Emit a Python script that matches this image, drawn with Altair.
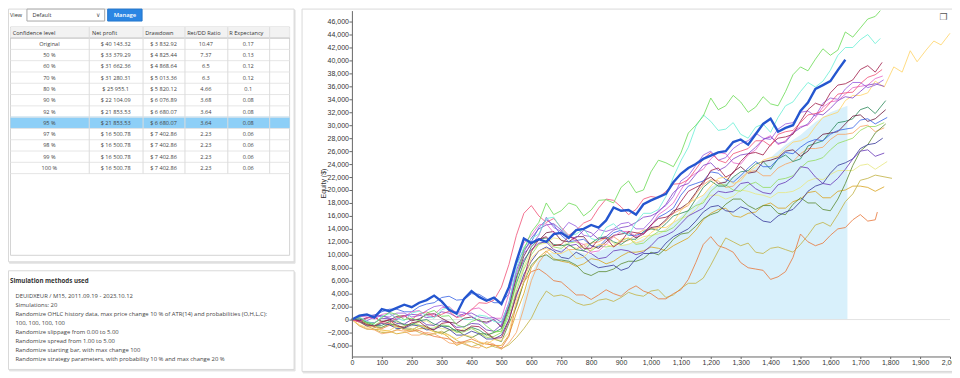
import altair as alt
import pandas as pd

# ---------------------------------------------------------------- data
CONF_LEVELS = ["Original", "50 %", "60 %", "70 %", "80 %", "90 %", "92 %", "95 %",
               "97 %", "98 %", "99 %", "100 %"]
NET_PROFIT = ["$ 40 143.32", "$ 33 379.29", "$ 31 662.36", "$ 31 280.31", "$ 25 955.1",
              "$ 22 104.09", "$ 21 853.53", "$ 21 853.53", "$ 16 500.78", "$ 16 500.78",
              "$ 16 500.78", "$ 16 500.78"]
DRAWDOWN = ["$ 3 832.92", "$ 4 825.44", "$ 4 868.64", "$ 5 013.36", "$ 5 820.12",
            "$ 6 076.89", "$ 6 680.07", "$ 6 680.07", "$ 7 402.86", "$ 7 402.86",
            "$ 7 402.86", "$ 7 402.86"]
RET_DD = ["10.47", "7.37", "6.5", "6.3", "4.66", "3.68", "3.64", "3.64",
          "2.23", "2.23", "2.23", "2.23"]
R_EXPECTANCY = ["0.17", "0.13", "0.12", "0.12", "0.1", "0.08", "0.08", "0.08",
                "0.06", "0.06", "0.06", "0.06"]
HEADERS = ["Confidence level", "Net profit", "Drawdown", "Ret/DD Ratio", "R Expectancy"]
SELECTED_ROW = "95 %"
VIEW_LABEL, VIEW_VALUE, BUTTON_LABEL = "View", "Default", "Manage"

METHODS_TITLE = "Simulation methods used"
METHODS = [
    "DEUIDXEUR / M15, 2011.09.19 - 2023.10.12",
    "Simulations: 20",
    "Randomize OHLC history data, max price change 10 % of ATR(14) and probabilities (O,H,L,C):",
    "100, 100, 100, 100",
    "Randomize slippage from 0.00 to 5.00",
    "Randomize spread from 1.00 to 5.00",
    "Randomize starting bar, with max change 100",
    "Randomize strategy parameters, with probability 10 % and max change 20 %",
]

X_TICKS = list(range(0, 2001, 100))
Y_TICKS = list(range(-4000, 46001, 2000))
Y_TITLE = "Equity ($)"

# equity in thousands of $: S_* at trades 0, 50, ..., 1750; M_* at 25, 75, ..., 1725
X_GRID = list(range(0, 1751, 50))
M_GRID = list(range(25, 1726, 50))

S_GREEN = [0, -0.5, 0.3, 0.8, 0.2, 1.0, 0.5, -0.8, -0.3, -1.0, -1.8, 6.0,
           13.5, 18.0, 16.8, 17.6, 16.9, 18.5, 20.4, 19.6, 22.8, 24.2, 25.7, 30.0,
           34.2, 33.0, 33.6, 32.8, 33.3, 35.2, 39.0, 40.2, 40.8, 44.4, 45.0, 46.8]
M_GREEN = [0.3, -0.6, 1.1, 0.0, -0.2, 1.4, 0.6, -1.2, 0.1, -1.9, 1.2, 10.8,
           15.0, 16.2, 18.0, 16.0, 18.4, 18.0, 21.4, 20.0, 24.6, 23.6, 28.8, 31.4,
           32.4, 34.6, 32.0, 34.4, 33.0, 37.8, 38.4, 41.8, 41.6, 43.6, 46.4]
T_GREEN = [(1767, 47.7)]
S_AQUA = [0, -0.3, 0.5, 0.2, 1.0, 0.6, 1.5, 0.8, 0.0, 0.5, -0.5, 8.0,
          12.5, 15.6, 14.0, 13.2, 12.5, 14.2, 13.6, 15.0, 16.4, 19.0, 24.5, 29.8,
          30.6, 29.4, 28.6, 29.7, 28.9, 33.0, 35.2, 35.9, 38.5, 42.0, 43.2, 42.6]
M_AQUA = [0.4, -0.6, 0.9, -0.2, 1.3, 0.2, 1.9, 0.0, 0.7, -0.3, 2.5, 11.2,
          13.2, 15.8, 12.9, 14.0, 12.2, 14.8, 13.0, 16.4, 17.0, 22.0, 26.6, 31.6,
          29.2, 30.4, 28.0, 30.2, 31.2, 33.6, 36.6, 36.8, 40.8, 42.0, 44.0]
T_AQUA = [(1767, 43.4)]
S_RED = [0, 0.2, -0.5, 0.3, 0.0, 1.2, 0.8, 0.3, 1.5, 2.5, 5.0, 13.0,
         17.6, 15.0, 14.2, 13.8, 15.4, 18.6, 17.4, 17.0, 19.0, 19.8, 21.0, 23.2,
         25.8, 24.2, 26.0, 27.6, 26.8, 29.0, 30.4, 31.8, 33.5, 35.0, 36.4, 37.8]
M_RED = [-0.4, 0.5, -0.6, 0.6, 0.9, 0.4, 1.3, 0.6, 2.6, 3.0, 8.5, 16.4,
         16.0, 15.6, 13.0, 14.9, 17.2, 18.4, 16.2, 18.6, 18.8, 20.9, 21.6, 24.8,
         24.6, 25.6, 26.4, 27.6, 28.6, 29.2, 31.6, 32.2, 34.8, 35.1, 37.4]
T_RED = [(1773, 38.6)]
S_MAROON = [0, -0.8, -0.4, -1.0, -0.5, -1.2, -0.6, -1.5, -1.0, -2.0, -2.8, 4.0,
            10.5, 12.8, 11.6, 12.4, 11.0, 12.6, 12.0, 13.4, 14.6, 15.8, 18.2, 20.4,
            23.0, 22.0, 24.4, 25.8, 27.0, 28.2, 30.6, 33.4, 35.0, 36.4, 38.6, 38.2]
M_MAROON = [-0.2, -1.0, 0.0, -1.2, -0.3, -1.6, -0.4, -1.8, -1.1, -2.9, -0.2, 6.4,
            12.4, 11.4, 12.8, 11.0, 12.4, 11.2, 13.6, 13.2, 15.6, 16.4, 19.8, 21.0,
            23.4, 22.6, 25.6, 25.4, 28.0, 28.6, 32.4, 33.0, 36.2, 37.0, 39.2]
T_MAROON = [(1773, 39.7)]
S_PINK = [0, 0.4, 0.8, 0.2, 1.2, 0.6, 1.8, 1.0, 1.6, 1.0, 0.2, 9.0,
          13.0, 14.8, 13.2, 12.0, 10.4, 11.6, 13.6, 12.8, 14.4, 17.0, 20.0, 22.6,
          24.8, 25.6, 24.0, 26.2, 28.4, 27.6, 29.8, 31.2, 33.6, 34.8, 36.0, 37.2]
M_PINK = [0.5, 0.1, 1.0, 0.4, 1.4, 0.8, 2.0, 0.6, 1.8, 0.2, 4.0, 11.8,
          14.6, 13.4, 13.0, 11.6, 10.6, 12.8, 13.6, 13.2, 16.2, 18.0, 21.8, 23.2,
          25.8, 24.2, 25.4, 27.8, 27.0, 29.0, 30.0, 32.8, 33.8, 35.8, 36.2]
T_PINK = [(1775, 37.6)]
S_VIOLET = [0, -0.2, 0.5, 1.0, 0.4, 1.4, 2.2, 1.2, 0.5, -0.6, -1.0, 7.0,
            11.5, 15.8, 13.6, 14.4, 12.8, 13.6, 14.8, 14.0, 15.2, 17.6, 21.4, 23.8,
            26.0, 25.0, 27.2, 28.8, 27.8, 30.2, 32.0, 31.4, 34.2, 35.6, 36.6, 36.2]
M_VIOLET = [0.3, 0.4, 0.4, 1.0, 0.6, 2.0, 1.4, 1.1, -0.2, 0.0, 2.4, 10.2,
            13.0, 14.2, 15.0, 13.0, 13.9, 14.0, 15.0, 14.0, 16.8, 19.0, 22.2, 25.4,
            24.6, 26.4, 27.6, 28.0, 29.4, 30.4, 32.2, 33.4, 34.0, 36.6, 35.8]
T_VIOLET = [(1778, 37.0)]
S_YELLOW = [0, -1.2, -1.8, -1.0, -1.6, -1.2, -2.2, -3.0, -2.6, -3.8, -3.2, 3.0,
            9.5, 11.0, 10.2, 9.4, 10.8, 11.6, 12.4, 11.8, 13.4, 14.2, 16.8, 18.6,
            20.6, 22.0, 21.4, 23.6, 25.0, 26.4, 27.6, 29.8, 31.6, 33.8, 34.6, 36.8]
M_YELLOW = [-0.8, -1.0, -1.7, -1.6, -1.0, -1.9, -2.4, -2.4, -3.4, -3.1, -2.0, 5.8,
            10.6, 10.2, 10.8, 9.6, 11.6, 11.2, 12.6, 12.2, 14.2, 15.0, 18.0, 19.2,
            21.8, 21.0, 22.8, 24.6, 25.2, 27.4, 28.2, 31.2, 32.0, 34.6, 35.0]
T_YELLOW = [(1780, 35.9), (1812, 39.0), (1840, 38.2), (1867, 41.5), (1890, 39.8),
            (1920, 41.6), (1946, 43.0), (1970, 42.4), (2000, 44.2)]
S_PURPLE = [0, 0.2, 0.6, 0.0, 0.8, 0.3, 1.2, 0.4, 1.0, 0.2, -0.4, 7.6,
            12.6, 14.6, 13.8, 12.6, 13.4, 12.8, 14.2, 15.0, 16.0, 17.8, 20.6, 22.4,
            24.2, 23.6, 25.4, 26.6, 28.2, 27.4, 29.6, 31.8, 32.6, 34.4, 35.2, 36.4]
M_PURPLE = [-0.3, 0.7, 0.2, 0.6, 0.7, 0.5, 1.0, 0.9, 0.4, 0.3, 2.6, 10.4,
            14.0, 14.8, 12.8, 13.8, 12.4, 13.8, 14.4, 15.8, 16.6, 19.6, 21.0, 23.8,
            23.0, 24.8, 25.6, 27.8, 27.2, 28.8, 30.2, 31.6, 33.8, 34.2, 36.2]
T_PURPLE = [(1780, 36.0)]
S_TEAL = [0, -0.4, -0.9, -0.2, -0.8, 0.0, -1.0, -1.8, -1.2, -2.4, -1.4, 5.6,
          11.2, 12.6, 11.4, 10.8, 11.8, 12.8, 11.6, 12.4, 14.0, 14.8, 16.4, 18.6,
          21.4, 20.6, 22.8, 24.0, 23.2, 25.4, 24.8, 27.2, 29.0, 30.6, 32.4, 31.8]
M_TEAL = [0.1, -0.9, -0.3, -0.8, -0.2, -0.7, -1.1, -1.7, -1.6, -2.0, 1.6, 8.8,
          12.4, 11.6, 11.6, 10.6, 12.6, 12.0, 12.4, 13.6, 13.8, 16.0, 16.8, 20.4,
          20.6, 22.0, 23.0, 24.4, 24.8, 24.4, 26.8, 27.6, 30.4, 31.0, 32.8]
T_TEAL = [(1785, 33.8)]
S_WINE = [0, 0.3, -0.3, 0.5, -0.2, 0.8, 0.2, -0.6, 0.4, -0.4, -1.2, 6.4,
          11.8, 13.4, 12.2, 12.8, 11.4, 12.0, 13.2, 12.6, 14.2, 15.4, 17.2, 19.6,
          22.0, 21.2, 23.6, 22.8, 24.6, 26.0, 25.2, 27.6, 28.8, 30.2, 31.6, 31.0]
M_WINE = [-0.2, 0.4, -0.1, 0.6, 0.1, 0.9, -0.4, 0.2, -0.2, 0.0, 2.0, 9.8,
          12.2, 13.6, 12.0, 12.8, 11.0, 13.0, 13.4, 13.2, 14.4, 16.8, 18.0, 21.4,
          21.0, 22.8, 22.6, 24.4, 25.0, 26.2, 26.0, 28.6, 29.0, 31.4, 30.6]
T_WINE = [(1785, 32.4)]
S_BLUE = [0, 0.6, 1.2, 1.6, 1.2, 2.4, 3.4, 3.0, 4.0, 3.2, 2.6, 8.6,
          12.0, 15.4, 13.0, 12.2, 11.4, 12.4, 13.8, 13.0, 14.6, 16.4, 19.2, 21.0,
          22.8, 21.6, 22.2, 24.4, 23.6, 25.8, 26.6, 27.8, 28.6, 29.4, 30.8, 30.2]
M_BLUE = [0.5, 0.7, 1.6, 1.2, 2.0, 2.6, 3.6, 3.1, 3.9, 2.6, 4.0, 10.8,
          14.2, 14.6, 12.0, 12.4, 11.2, 13.4, 13.0, 13.4, 15.8, 17.2, 20.6, 21.4,
          22.6, 21.2, 23.4, 23.6, 24.8, 25.6, 27.4, 27.6, 29.2, 29.6, 31.0]
T_BLUE = [(1790, 31.2)]
S_LGREEN = [0, -0.8, -0.2, -1.2, -0.6, -1.4, -0.8, -2.0, -1.4, -2.8, -2.0, 4.4,
            10.0, 12.2, 11.0, 12.0, 10.6, 11.2, 12.2, 11.6, 12.8, 13.6, 15.4, 17.6,
            19.8, 20.8, 19.8, 21.2, 20.4, 21.8, 23.4, 24.6, 26.2, 27.6, 29.2, 29.8]
M_LGREEN = [-0.2, -0.9, -0.5, -1.0, -0.8, -1.3, -1.0, -1.9, -2.0, -2.6, 0.6, 7.8,
            11.6, 11.2, 11.8, 11.0, 11.4, 11.4, 12.6, 11.8, 13.6, 14.2, 16.8, 18.0,
            20.8, 20.0, 20.8, 20.4, 21.6, 22.2, 24.4, 25.0, 27.2, 28.0, 29.8]
T_LGREEN = [(1780, 30.4)]
S_LORANGE = [0, -1.4, -2.2, -1.6, -2.4, -2.0, -2.8, -3.8, -4.2, -3.4, -4.6, -2.0,
             6.0, 10.4, 11.6, 10.8, 11.8, 12.6, 12.0, 13.2, 14.0, 15.2, 17.0, 19.4,
             21.6, 20.4, 21.8, 23.0, 22.2, 24.0, 25.6, 26.4, 27.8, 28.6, 29.8, 29.0]
M_LORANGE = [-0.9, -1.6, -2.0, -1.8, -2.4, -2.2, -3.6, -3.6, -4.4, -3.8, -3.6, 1.8,
             8.8, 11.4, 10.8, 11.6, 12.0, 12.8, 12.2, 13.8, 14.2, 16.4, 17.6, 20.8,
             21.4, 20.6, 22.8, 22.2, 23.4, 24.4, 26.4, 26.6, 28.6, 28.8, 30.0]
T_LORANGE = [(1780, 29.6)]
S_INDIGO = [0, -0.4, 0.2, -0.6, 0.0, -0.8, -0.2, -1.2, -0.6, -1.6, -0.8, 6.6,
            10.8, 12.0, 10.4, 11.6, 10.2, 9.6, 10.8, 10.0, 11.4, 13.0, 14.8, 16.6,
            18.8, 19.6, 21.0, 20.2, 19.4, 21.2, 23.6, 22.0, 20.8, 23.2, 26.0, 25.2]
M_INDIGO = [0.1, -0.5, 0.1, -0.7, 0.0, -0.9, -0.4, -1.1, -0.7, -1.8, 2.2, 9.2,
            11.8, 10.8, 11.4, 10.6, 9.4, 10.6, 10.6, 10.4, 12.6, 13.6, 16.0, 17.2,
            19.8, 19.8, 21.2, 19.6, 20.8, 22.0, 23.4, 21.0, 21.8, 24.8, 26.2]
T_INDIGO = [(1780, 25.7)]
S_LYELLOW = [0, -0.6, -1.2, -0.4, -1.0, -0.2, -1.4, -2.0, -1.2, -2.6, -1.8, 5.0,
             10.6, 11.8, 12.4, 11.0, 11.8, 12.6, 11.4, 12.2, 13.0, 13.8, 15.6, 17.0,
             19.2, 18.6, 20.0, 19.4, 18.8, 19.6, 20.4, 21.8, 22.4, 23.0, 23.8, 23.2]
M_LYELLOW = [-0.1, -1.1, -0.6, -0.9, -0.4, -1.0, -1.5, -1.4, -2.1, -2.0, 1.4, 8.2,
             11.6, 12.6, 11.4, 11.2, 12.6, 11.8, 11.6, 12.8, 13.2, 15.0, 16.0, 18.4,
             19.2, 19.0, 19.8, 19.2, 19.6, 19.8, 21.4, 21.6, 23.0, 23.0, 24.0]
T_LYELLOW = [(1790, 24.4)]
S_OLIVE = [0, -1.5, -2.0, -1.6, -1.4, -2.4, -1.8, -3.2, -4.2, -3.6, -4.5, -2.8,
           0.2, 4.4, 3.8, 2.6, 2.4, 3.2, 3.4, 3.8, 4.4, 3.4, 4.8, 5.6,
           8.4, 12.6, 11.4, 10.4, 11.0, 10.8, 11.6, 14.6, 14.4, 18.2, 21.5, 22.3]
M_OLIVE = [-1.0, -1.5, -2.0, -1.2, -2.0, -2.2, -2.4, -3.8, -3.8, -4.2, -3.9, -1.4,
           2.6, 3.6, 3.4, 2.2, 3.0, 2.8, 4.2, 3.6, 4.6, 3.8, 5.6, 6.4,
           10.6, 12.0, 11.8, 10.2, 11.2, 10.4, 13.0, 15.0, 16.2, 19.4, 21.8]
T_OLIVE = [(1806, 21.8)]
S_GOLD = [0, -1.0, -1.6, -2.2, -1.8, -1.4, -2.0, -4.0, -3.4, -4.4, -4.0, 1.0,
          8.0, 10.6, 9.0, 8.2, 9.4, 8.6, 9.8, 10.4, 11.2, 10.6, 12.0, 13.8,
          16.4, 17.2, 15.8, 16.6, 18.0, 17.2, 18.6, 19.8, 18.8, 20.0, 20.6, 19.8]
M_GOLD = [-0.4, -1.5, -1.8, -2.0, -1.4, -1.9, -2.8, -3.5, -3.9, -4.0, -2.4, 4.0,
          9.6, 9.4, 8.8, 8.6, 9.2, 9.0, 10.4, 10.6, 11.0, 11.4, 12.6, 15.4,
          17.0, 16.0, 16.4, 17.6, 17.2, 18.2, 19.6, 18.8, 19.8, 20.6, 20.4]
T_GOLD = [(1780, 20.5)]
S_ORANGE = [0, -0.8, -1.4, -1.0, -1.8, -2.2, -2.8, -3.6, -3.0, -3.8, -4.4, 2.4,
            7.4, 7.0, 5.8, 3.8, 3.1, 4.6, 3.6, 5.2, 4.0, 3.2, 4.6, 8.8,
            12.8, 11.0, 8.8, 7.8, 6.2, 7.4, 13.2, 11.4, 13.0, 14.2, 16.2, 15.4]
M_ORANGE = [-0.2, -1.2, -0.9, -1.6, -1.7, -2.6, -3.0, -3.4, -3.5, -3.9, -2.6, 5.8,
            7.8, 6.0, 4.8, 3.8, 3.8, 4.0, 4.6, 4.4, 3.2, 4.0, 6.2, 11.6,
            11.4, 10.4, 8.0, 7.6, 6.6, 9.6, 12.0, 11.8, 14.0, 15.4, 15.2]
T_ORANGE = [(1757, 16.6)]
S_NAVY = [0, -1.0, -0.6, -1.4, -0.8, -1.6, -1.0, -2.4, -1.8, -3.0, -2.4, 3.6,
          9.0, 11.2, 9.6, 10.4, 8.6, 8.2, 7.6, 9.4, 10.2, 11.8, 13.4, 15.2,
          17.4, 16.8, 17.4, 16.0, 15.0, 16.6, 18.2, 20.6, 22.6, 24.2, 26.4, 27.2]
M_NAVY = [-0.3, -1.0, -0.8, -1.3, -1.0, -1.5, -1.5, -2.4, -2.2, -3.0, 0.0, 7.0,
          10.6, 10.6, 9.4, 9.8, 8.0, 8.4, 8.0, 10.2, 10.4, 12.8, 14.0, 16.6,
          17.6, 16.6, 17.0, 15.2, 16.0, 17.0, 19.8, 21.0, 23.8, 24.8, 27.0]
T_NAVY = [(1775, 28.0)]
S_MOSS = [0, -0.6, -1.2, -0.8, -1.6, -1.0, -2.2, -1.6, -2.8, -2.2, -3.4, 2.0,
          8.4, 10.0, 9.2, 8.4, 6.8, 7.4, 8.6, 9.0, 10.4, 11.0, 13.2, 14.4,
          16.2, 17.8, 18.6, 17.0, 17.6, 16.2, 18.8, 18.0, 16.8, 21.0, 26.0, 28.8]
M_MOSS = [-0.1, -1.1, -0.7, -1.4, -1.0, -1.8, -1.6, -2.4, -2.2, -3.0, -0.6, 5.8,
          9.6, 9.2, 9.0, 7.2, 7.4, 7.8, 9.0, 9.4, 10.0, 12.4, 13.4, 15.6,
          16.6, 18.6, 17.6, 17.6, 16.4, 17.8, 18.0, 17.0, 18.6, 23.8, 27.0]
T_MOSS = [(1785, 30.2)]

SIMS = [  # (grid values, mid values, tail, colour) in drawing order
    (S_LYELLOW, M_LYELLOW, T_LYELLOW, "#e8e884"),
    (S_GOLD, M_GOLD, T_GOLD, "#d9a525"),
    (S_OLIVE, M_OLIVE, T_OLIVE, "#c2b247"),
    (S_ORANGE, M_ORANGE, T_ORANGE, "#e8793e"),
    (S_LORANGE, M_LORANGE, T_LORANGE, "#f7a565"),
    (S_LGREEN, M_LGREEN, T_LGREEN, "#96dc62"),
    (S_MOSS, M_MOSS, T_MOSS, "#5f8c36"),
    (S_NAVY, M_NAVY, T_NAVY, "#3b3b9c"),
    (S_INDIGO, M_INDIGO, T_INDIGO, "#6b3bb8"),
    (S_TEAL, M_TEAL, T_TEAL, "#2f8a5c"),
    (S_WINE, M_WINE, T_WINE, "#6e1f42"),
    (S_BLUE, M_BLUE, T_BLUE, "#3b66e6"),
    (S_YELLOW, M_YELLOW, T_YELLOW, "#ffd46a"),
    (S_PINK, M_PINK, T_PINK, "#e868c8"),
    (S_VIOLET, M_VIOLET, T_VIOLET, "#9a5fe0"),
    (S_PURPLE, M_PURPLE, T_PURPLE, "#8446c8"),
    (S_MAROON, M_MAROON, T_MAROON, "#a3224e"),
    (S_RED, M_RED, T_RED, "#f0557a"),
    (S_AQUA, M_AQUA, T_AQUA, "#6cefd6"),
    (S_GREEN, M_GREEN, T_GREEN, "#6ddc57"),
]

# original (thick) equity, every 25 trades, thousands of $
ORIG_GRID = list(range(0, 1651, 25))
ORIGINAL = [0, 0.6, 0.8, 0.3, 1.6, 1.3, 1.8, 2.3, 1.9, 2.6, 3.0, 3.7,
            2.8, 1.5, 0.9, 3.2, 4.4, 3.5, 2.9, 3.4, 2.4, 5.0, 9.0, 12.5,
            11.8, 12.4, 12.0, 13.2, 13.4, 12.6, 13.8, 14.0, 14.6, 14.2, 15.3, 17.3,
            16.8, 16.9, 16.2, 17.8, 18.4, 18.9, 19.4, 21.2, 22.5, 23.4, 24.0, 24.8,
            25.3, 25.8, 26.0, 27.4, 27.8, 27.0, 28.6, 30.2, 31.0, 29.0, 29.6, 30.0,
            32.2, 33.5, 35.6, 36.2, 36.8, 38.5, 40.1]

# shaded confidence area (upper edge, thousands of $)
BAND_X = [557, 575, 600, 625, 650, 700, 750, 800, 850, 900, 950, 1000, 1050, 1100,
          1150, 1200, 1250, 1300, 1350, 1400, 1450, 1500, 1550, 1600, 1657]
BAND_TOP = [0, 3.5, 7.0, 9.5, 10.0, 11.0, 10.5, 10.0, 11.0, 11.5, 12.0, 13.0, 14.0, 16.0,
            18.0, 20.5, 21.5, 22.5, 23.5, 25.0, 27.0, 28.5, 30.5, 32.0, 33.0]

# ---------------------------------------------------------------- frames
SIM_NAMES = [f"Simulation {i + 1}" for i in range(len(SIMS))]
SIM_COLORS = [s[3] for s in SIMS]
rows = []
for name, (svals, mvals, tail, _c) in zip(SIM_NAMES, SIMS):
    pts = list(zip(X_GRID, svals)) + list(zip(M_GRID, mvals)) + tail
    for x, v in sorted(pts):
        rows.append({"sim": name, "x": x, "v": v * 1000})
sims_df = pd.DataFrame(rows)
orig_df = pd.DataFrame({"x": ORIG_GRID, "v": [v * 1000 for v in ORIGINAL]})
band_df = pd.DataFrame({"x": BAND_X, "v": [v * 1000 for v in BAND_TOP], "base": 0})
zero_df = pd.DataFrame({"z": [0]})

# ---------------------------------------------------------------- layout (page px)
OX, OY = 353, 10          # page position of the plot origin
PW, PH = 600, 347


def rx(x):
    return x - OX


def ry(y):
    return y - OY


ROW0, ROWH = 37.6, 11.33
boxes = [
    # shadows
    (9.5, 296, 9.5, 263.5, "#e3e3e3", "#e3e3e3"),
    (9.5, 296, 272.5, 371.5, "#e3e3e3", "#e3e3e3"),
    (304, 958, 9.5, 373.5, "#e3e3e3", "#e3e3e3"),
    # panels
    (8.5, 295, 8.5, 262, "#ffffff", "#d9d9d9"),
    (8.5, 295, 271, 370, "#ffffff", "#d9d9d9"),
    (303, 957, 8.5, 372, "#ffffff", "#d9d9d9"),
    # table frame, header, selected row
    (10.5, 290.5, 26.5, 255.5, "#ffffff", "#d4d4d4"),
    (11, 290, 27, ROW0, "#f2f2f2", "#f2f2f2"),
    (11, 290, ROW0 + CONF_LEVELS.index(SELECTED_ROW) * ROWH,
     ROW0 + (CONF_LEVELS.index(SELECTED_ROW) + 1) * ROWH, "#8dcff7", "#8dcff7"),
    # dropdown and button
    (27, 105, 8.5, 20.5, "#ffffff", "#a8a8a8"),
    (108, 142.5, 8.5, 20.5, "#2b86e3", "#2476cc"),
]
box_df = pd.DataFrame([{"x": rx(a), "x2": rx(b), "y": ry(c), "y2": ry(d), "f": f, "s": s}
                       for a, b, c, d, f, s in boxes])

COL_EDGES = [89.5, 143.5, 185.5, 228.5, 270.5]
lines = [(10.5, 290.5, ROW0, ROW0, "#bdbdbd")]
for i in range(1, len(CONF_LEVELS) + 1):
    y = ROW0 + i * ROWH
    lines.append((10.5, 290.5, y, y, "#e6e6e6"))
for cx in COL_EDGES:
    lines.append((cx, cx, 26.5, ROW0 + len(CONF_LEVELS) * ROWH, "#dcdcdc"))
line_df = pd.DataFrame([{"x": rx(a), "x2": rx(b), "y": ry(c), "y2": ry(d), "c": col}
                        for a, b, c, d, col in lines])

HEAD_X = [12.7, 92.3, 145.7, 187.7, 230]
CELL_X = [49.5, 116, 164, 206.5, 249]
left_txt = [(10, 14.5, VIEW_LABEL), (32.5, 14.5, VIEW_VALUE)]
left_txt += [(hx, 32.3, h) for hx, h in zip(HEAD_X, HEADERS)]
methods_txt = [(15.5, 296.7 + 8.94 * k, t) for k, t in enumerate(METHODS)]
cells = []
for i, row in enumerate(zip(CONF_LEVELS, NET_PROFIT, DRAWDOWN, RET_DD, R_EXPECTANCY)):
    for cx, t in zip(CELL_X, row):
        cells.append((cx, ROW0 + 5.7 + ROWH * i, t))


def tdf(items):
    return pd.DataFrame([{"x": rx(a), "y": ry(b), "t": t} for a, b, t in items])


FONT = "Open Sans"
AX_FONT = "Liberation Sans"


def text_layer(df, **kw):
    base = dict(font=FONT, fontSize=5.6, baseline="middle", color="#333333")
    base.update(kw)
    return alt.Chart(df).mark_text(**base).encode(
        x=alt.X("x:Q", scale=None, axis=None),
        y=alt.Y("y:Q", scale=None, axis=None),
        text="t:N")


# ---------------------------------------------------------------- chart
Y_SCALE = alt.Scale(domain=[-5700, 47700], nice=False, zero=False)
Y_AXIS = alt.Axis(values=Y_TICKS, format=",.0f", title=Y_TITLE, grid=False,
                  labelOverlap=False, tickSize=3, labelPadding=0.5,
                  titleX=-25, titleY=173, titleAngle=-90, zindex=1)
X_ENC = alt.X("x:Q", scale=alt.Scale(domain=[0, 2000], nice=False, zero=False),
              axis=alt.Axis(values=X_TICKS, format=",.0f", title=None, grid=False,
                            labelFlush=False, labelOverlap=False, tickSize=2,
                            labelPadding=0, zindex=1))
Y_ENC = alt.Y("v:Q", scale=Y_SCALE, axis=Y_AXIS)

panels = alt.Chart(box_df).mark_rect(strokeWidth=1).encode(
    x=alt.X("x:Q", scale=None, axis=None), x2="x2:Q",
    y=alt.Y("y:Q", scale=None, axis=None), y2="y2:Q",
    fill=alt.Fill("f:N", scale=None), stroke=alt.Stroke("s:N", scale=None))

table_lines = alt.Chart(line_df).mark_rule(strokeWidth=1).encode(
    x=alt.X("x:Q", scale=None, axis=None), x2="x2:Q",
    y=alt.Y("y:Q", scale=None, axis=None), y2="y2:Q",
    color=alt.Color("c:N", scale=None))

band = alt.Chart(band_df).mark_area(color="#d8f0fb", opacity=1).encode(
    x=X_ENC, y=Y_ENC, y2="base:Q")

zero_rule = alt.Chart(zero_df).mark_rule(color="#e3e3e3", strokeWidth=1).encode(
    y=alt.Y("z:Q", scale=Y_SCALE, axis=Y_AXIS))

sim_lines = alt.Chart(sims_df).mark_line(strokeWidth=0.9, opacity=0.92).encode(
    x=X_ENC, y=Y_ENC,
    color=alt.Color("sim:N", scale=alt.Scale(domain=SIM_NAMES, range=SIM_COLORS),
                    legend=None),
    detail="sim:N")

orig_line = alt.Chart(orig_df).mark_line(strokeWidth=2.4, color="#2456cf").encode(
    x=X_ENC, y=Y_ENC)

layers = [
    panels,
    band,
    zero_rule,
    sim_lines,
    orig_line,
    table_lines,
    text_layer(tdf(left_txt), align="left"),
    text_layer(tdf(cells), align="center", color="#444444"),
    text_layer(tdf([(98.5, 14.5, "∨")]), align="center", fontSize=6, color="#555555",
               font="DejaVu Sans"),
    text_layer(tdf([(125.3, 14.5, BUTTON_LABEL)]), align="center", color="#ffffff",
               fontSize=5.9, fontWeight=600),
    text_layer(tdf([(10, 281.2, METHODS_TITLE)]), align="left", fontSize=6.2,
               fontWeight="bold", color="#333333"),
    text_layer(tdf(methods_txt), align="left", fontSize=5.9, color="#444444"),
    text_layer(tdf([(946.5, 16.5, "❐")]), align="center", fontSize=9, color="#555555",
               font="DejaVu Sans"),
]

chart = alt.layer(*layers).properties(
    width=PW, height=PH,
    autosize=alt.AutoSizeParams(type="none"),
    padding={"left": OX - 8, "top": OY - 8, "right": 2, "bottom": 21},
    background="#ffffff",
).configure_view(stroke=None).configure_axis(
    labelFont=AX_FONT, labelFontSize=7, labelColor="#333333",
    titleFont=AX_FONT, titleFontSize=7, titleFontWeight="normal", titleColor="#333333",
    domainColor="#666666", tickColor="#666666",
)

chart.save("out.html", embed_options={"renderer": "svg", "actions": False})
